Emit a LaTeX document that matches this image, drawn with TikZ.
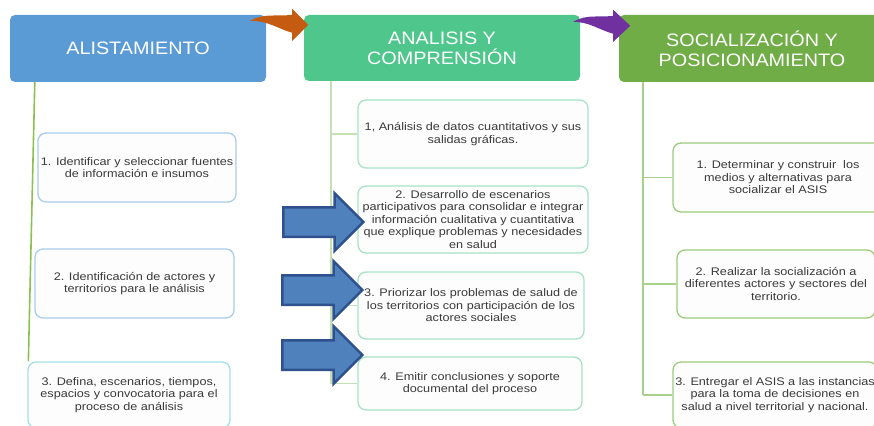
\documentclass[tikz,border=0pt]{standalone}
\usepackage{fontspec}
\setmainfont{Liberation Sans}
\newfontfamily\bodyfont[FakeStretch=1.15]{Liberation Sans}
\newfontfamily\headfont[FakeStretch=1.1]{Liberation Sans}
\usepackage{xcolor}
\usetikzlibrary{shapes.arrows,backgrounds}

\definecolor{alistblue}{HTML}{5B9BD5}
\definecolor{analgreen}{HTML}{4EC68C}
\definecolor{sociagreen}{HTML}{70AD47}
\definecolor{orangeA}{HTML}{C55A11}
\definecolor{purpleA}{HTML}{7030A0}
\definecolor{arrowfill}{HTML}{4F81BD}
\definecolor{arrowedge}{HTML}{2F528F}
\definecolor{txtgray}{HTML}{3A3A3A}
\definecolor{lineA}{HTML}{8CC152}
\definecolor{lineB}{HTML}{C5E0B4}
\definecolor{lineC}{HTML}{A9D18E}
\definecolor{edgeA}{HTML}{A9CDEB}
\definecolor{edgeAc}{HTML}{A3E0E8}
\definecolor{edgeB}{HTML}{A6E3C6}
\definecolor{edgeC}{HTML}{9CCB7E}
\definecolor{boxfill}{HTML}{FDFDFD}

\begin{document}
\begin{tikzpicture}[
    x=1pt, y=-1pt,
    phase/.style={rectangle, rounded corners=5pt, text=white, inner sep=0pt,
        align=center, font=\headfont\fontsize{18}{20}\selectfont},
    task/.style={rectangle, rounded corners=8pt, draw, line width=1.3pt,
        fill=boxfill, text=txtgray, inner sep=0pt, align=center,
        font=\bodyfont\fontsize{11}{12.5}\selectfont},
    spine/.style={line width=1.6pt},
    push/.style={single arrow, single arrow head extend=14pt, inner sep=0pt,
        inner ysep=13.5pt, minimum height=80pt, fill=arrowfill,
        draw=arrowedge, line width=2.5pt}
]
\clip (0,0) rectangle (874,425);

% phases
\node[phase, fill=alistblue, minimum width=256pt, minimum height=67pt] (alist) at (138,48.5) {ALISTAMIENTO};
\node[phase, fill=analgreen, minimum width=276pt, minimum height=66pt] (anal) at (442,48) {ANALISIS Y\\COMPRENSIÓN};
\node[phase, fill=sociagreen, minimum width=266pt, minimum height=67pt] (socia) at (752,48.5) {SOCIALIZACIÓN Y\\POSICIONAMIENTO};

% curved arrows between phases
\coordinate (otail) at ([xshift=-16pt,yshift=-6pt]alist.north east);
\fill[orangeA] (otail) .. controls +(14,-8) and +(-16,2) .. ++(42,-6) -- ++(0,-6)
    -- ++(16,16) -- ++(-16,16) -- ++(0,-8) .. controls +(-14,-4) and +(18,0) .. (otail) -- cycle;
\coordinate (ptail) at ([xshift=-7pt,yshift=-7pt]anal.north east);
\fill[purpleA] (ptail) .. controls +(14,-8) and +(-16,2) .. ++(40,-6) -- ++(0,-6)
    -- ++(17,16) -- ++(-17,16) -- ++(0,-8) .. controls +(-14,-4) and +(16,0) .. (ptail) -- cycle;

% alistamiento
\node[task, draw=edgeA, minimum width=198pt, minimum height=69pt] (a1) at (137,167.5) {1. Identificar y seleccionar fuentes\\de información e insumos};
\node[task, draw=edgeA, minimum width=199pt, minimum height=69pt] (a2) at (134.5,283.5) {2. Identificación de actores y\\territorios para le análisis};
\node[task, draw=edgeAc, minimum width=202pt, minimum height=66pt] (a3) at (129,395) {3. Defina, escenarios, tiempos,\\espacios y convocatoria para el\\proceso de análisis};

% analisis
\node[task, draw=edgeB, minimum width=230pt, minimum height=68pt] (b1) at (473,134) {1, Análisis de datos cuantitativos y sus\\salidas gráficas.};
\node[task, draw=edgeB, minimum width=230pt, minimum height=67pt] (b2) at (473,219.5) {2. Desarrollo de escenarios\\participativos para consolidar e integrar\\información cualitativa y cuantitativa\\que explique problemas y necesidades\\en salud};
\node[task, draw=edgeB, minimum width=226pt, minimum height=67pt] (b3) at (471,305.5) {3. Priorizar los problemas de salud de\\los territorios con participación de los\\actores sociales};
\node[task, draw=edgeB, minimum width=224pt, minimum height=53pt] (b4) at (470,383.5) {4. Emitir conclusiones y soporte\\documental del proceso};

% socializacion
\node[task, draw=edgeC, minimum width=210pt, minimum height=69pt] (c1) at (778,177.5) {1. Determinar y construir\ \ los\\medios y alternativas para\\socializar el ASIS};
\node[task, draw=edgeC, minimum width=198pt, minimum height=68pt] (c2) at (776,284) {2. Realizar la socialización a\\diferentes actores y sectores del\\territorio.};
\node[task, draw=edgeC, minimum width=204pt, minimum height=66pt] (c3) at (775,395) {3. Entregar el ASIS a las instancias\\para la toma de decisiones en\\salud a nivel territorial y nacional.};

% spines
\begin{scope}[on background layer]
\draw[spine, draw=lineA] ([xshift=25pt]alist.south west) -- ([xshift=1pt]a3.north west);
\coordinate (mtop) at ([xshift=27pt]anal.south west);
\draw[spine, draw=lineB] (mtop) -- (mtop |- b4.west);
\foreach \b in {b1,b2,b3,b4}
    \draw[spine, draw=lineB] (mtop |- \b.west) -- (\b.west);
\coordinate (rtop) at ([xshift=24pt]socia.south west);
\draw[spine, draw=lineC] (rtop) -- (rtop |- c3.west);
\foreach \c in {c1,c2,c3}
    \draw[spine, draw=lineC] (rtop |- \c.west) -- (\c.west);
\end{scope}

% block arrows
\node[push] (p1) at (316,222) {};
\node[push] (p2) at (315,290) {};
\node[push] (p3) at (315,355) {};

\end{tikzpicture}
\end{document}
